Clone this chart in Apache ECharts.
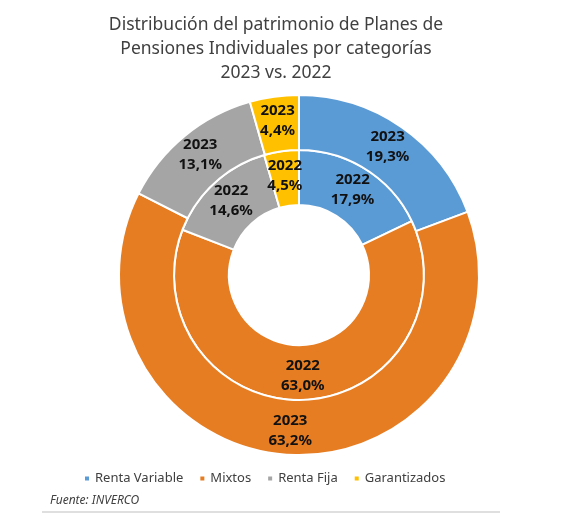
<!DOCTYPE html>
<html><head><meta charset="utf-8">
<script src="https://cdn.jsdelivr.net/npm/echarts@6/dist/echarts.min.js"></script>
<style>html,body{margin:0;padding:0;background:#fff}#c{width:566px;height:524px}</style>
</head><body><div id="c"></div>
<script>
const categories = ['Renta Variable', 'Mixtos', 'Renta Fija', 'Garantizados'];
const values2023 = [19.3, 63.2, 13.1, 4.4];
const values2022 = [17.9, 63.0, 14.6, 4.5];
const colors = ['#5B9BD5', '#E67D22', '#A5A5A5', '#FFC000'];
const titleText = 'Distribución del patrimonio de Planes de\nPensiones Individuales por categorías\n2023 vs. 2022';
const sourceText = 'Fuente: INVERCO';

const chart = echarts.init(document.getElementById('c'));
function fmt(p){ return p.seriesName + '\n' + p.value.toFixed(1).replace('.', ',') + '%'; }
const labelStyle = {
  show: true, position: 'inside', formatter: fmt,
  fontFamily: 'Noto Sans', fontWeight: 'bold', fontSize: 15, lineHeight: 20, color: '#111'
};
chart.setOption({
  animation: false,
  color: colors,
  title: {
    text: titleText, left: 271, top: 8, textAlign: 'center',
    textStyle: { fontFamily: 'Noto Sans', fontWeight: 'normal', fontSize: 17.5, lineHeight: 24, color: '#404040' }
  },
  legend: {
    data: categories, left: 78, top: 467, icon: 'rect', itemWidth: 6, itemHeight: 6, itemGap: 15,
    textStyle: { fontFamily: 'Noto Sans', fontSize: 13, color: '#404040' }
  },
  graphic: [
    { type: 'text', left: 50, top: 495, style: { text: sourceText, font: 'italic 12px "Noto Sans"', fill: '#404040' } },
    { type: 'line', shape: { x1: 42, y1: 512, x2: 500, y2: 512 }, style: { stroke: '#BFBFBF', lineWidth: 1 } }
  ],
  series: [
    {
      name: '2022', type: 'pie', center: [299, 275], radius: [70, 125], startAngle: 90,
      itemStyle: { borderColor: '#fff', borderWidth: 2 },
      label: labelStyle, labelLine: { show: false }, emphasis: { disabled: true },
      data: categories.map((c, i) => ({ name: c, value: values2022[i] }))
    },
    {
      name: '2023', type: 'pie', center: [299, 275], radius: [125, 180], startAngle: 90,
      itemStyle: { borderColor: '#fff', borderWidth: 2 },
      label: labelStyle, labelLine: { show: false }, emphasis: { disabled: true },
      data: categories.map((c, i) => ({ name: c, value: values2023[i] }))
    }
  ]
});
</script></body></html>
